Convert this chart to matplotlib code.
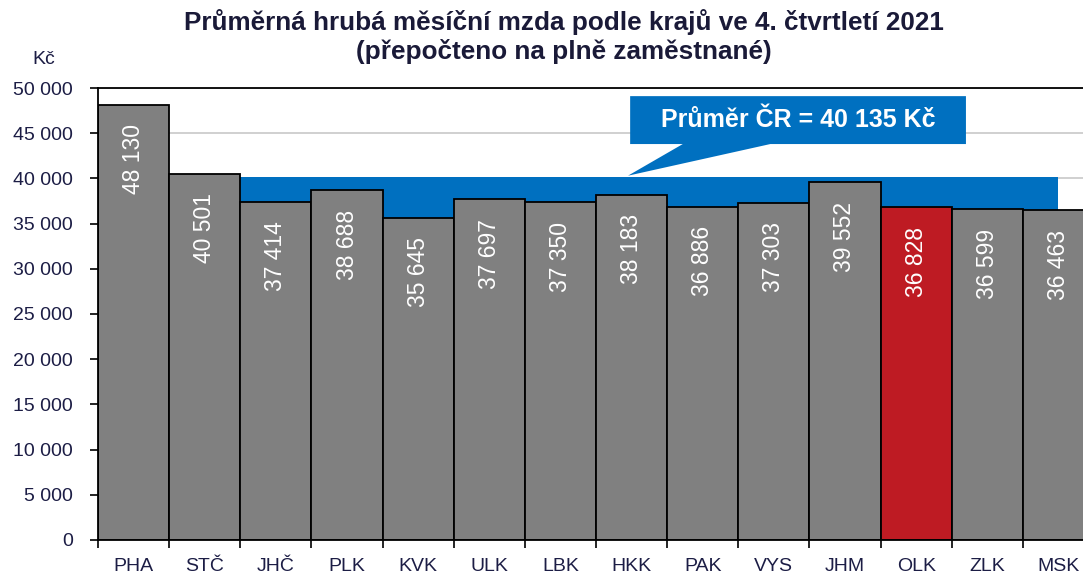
import matplotlib
matplotlib.use('Agg')
import matplotlib.pyplot as plt
from matplotlib.patches import Polygon

plt.rcParams['font.family'] = ['Liberation Sans', 'DejaVu Sans']

regions = ['PHA', 'STČ', 'JHČ', 'PLK', 'KVK', 'ULK', 'LBK', 'HKK', 'PAK', 'VYS', 'JHM', 'OLK', 'ZLK', 'MSK']
wages = [48130, 40501, 37414, 38688, 35645, 37697, 37350, 38183, 36886, 37303, 39552, 36828, 36599, 36463]
avg_cr = 40135
highlight = 'OLK'

txt_col = '#1c1d45'
fig = plt.figure(figsize=(10.83, 5.74), dpi=100)
ax = fig.add_axes([98 / 1083, 34 / 574, 996 / 1083, 452 / 574])

x = list(range(len(regions)))
colors = ['#be1b23' if r == highlight else '#808080' for r in regions]

# average as blue area behind the bars
ax.fill_between(x, [avg_cr] * len(x), 0, color='#0070c0', linewidth=0, zorder=1)
bars = ax.bar(x, wages, width=1.0, color=colors, edgecolor='black', linewidth=1.3, zorder=2)

for xi, v in zip(x, wages):
    ax.annotate(f'{v:,}'.replace(',', ' '), (xi, v), xytext=(0, -14), textcoords='offset points',
                rotation=90, ha='center', va='top', color='white', fontsize=16.5,
                family=['Liberation Sans Narrow', 'Liberation Sans'], zorder=3)

ax.set_xlim(-0.5, len(regions) - 0.5)
ax.set_ylim(0, 50000)
ax.set_yticks(range(0, 50001, 5000))
ax.set_yticklabels([f'{t:,}'.replace(',', ' ') for t in range(0, 50001, 5000)], color=txt_col, fontsize=14)
ax.yaxis.grid(True, color='#c8c8c8', linewidth=1.2, zorder=0)
ax.set_axisbelow(True)

# category labels centred, ticks between bars
ax.set_xticks([i - 0.5 for i in x] + [len(x) - 0.5])
ax.set_xticklabels([])
ax.set_xticks(x, minor=True)
ax.set_xticklabels(regions, minor=True, color=txt_col, fontsize=14)
ax.tick_params(axis='x', which='minor', length=0, pad=13)
ax.tick_params(axis='x', which='major', length=6, width=1.2, direction='out')
ax.tick_params(axis='y', length=6, width=1.2, direction='out', pad=12)
for s in ['left', 'bottom', 'top']:
    ax.spines[s].set_linewidth(1.3)
ax.spines['right'].set_visible(False)

# callout box
callout = Polygon([(6.98, 49100), (11.70, 49100), (11.70, 43800), (8.95, 43800),
                   (6.95, 40300), (7.72, 43800), (6.98, 43800)],
                  closed=True, facecolor='#0070c0', edgecolor='none', zorder=4)
ax.add_patch(callout)
ax.text(9.34, 46450, 'Průměr ČR = 40 135 Kč', ha='center', va='center', color='white',
        fontsize=18, fontweight='bold', zorder=5)

fig.text(44 / 1083, 1 - 60 / 574, 'Kč', ha='center', va='center', fontsize=14, color=txt_col)
fig.text(564 / 1083, 1 - 22 / 574, 'Průměrná hrubá měsíční mzda podle krajů ve 4. čtvrtletí 2021',
         ha='center', va='center', fontsize=18.8, fontweight='bold', color='#1a1a38')
fig.text(564 / 1083, 1 - 51 / 574, '(přepočteno na plně zaměstnané)',
         ha='center', va='center', fontsize=18.8, fontweight='bold', color='#1a1a38')

fig.savefig('out.png', dpi=100)
